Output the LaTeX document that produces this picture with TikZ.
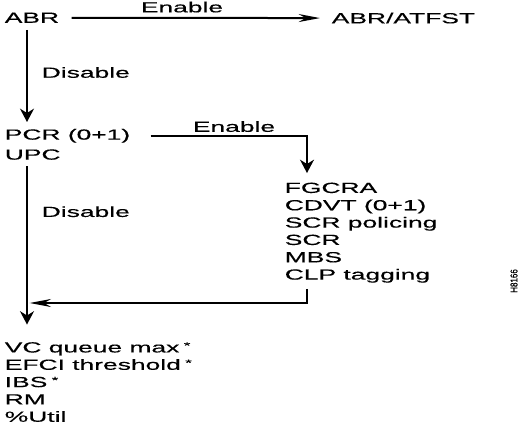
\documentclass[tikz,border=0pt]{standalone}
\usepackage{fontspec}
\setmainfont{Liberation Sans}[FakeBold=0.3]
\usetikzlibrary{arrows.meta}
\newcommand\smallstar{\raisebox{2.8pt}{\fontsize{7}{7}\selectfont *}}
\tikzset{
  txt/.style={inner sep=0pt, xscale=1.8, transform shape, align=left,
    font=\fontsize{11}{13}\selectfont},
}
\begin{document}
\begin{tikzpicture}[x=0.75pt, y=-0.75pt, line width=1.5pt,
  varr/.style={-{Stealth[length=10pt,width=10.5pt]}},
  harr/.style={-{Stealth[length=16pt,width=6pt]}}]
\useasboundingbox (0,0) rectangle (528,423);

\node[txt, anchor=north west] (abr) at (3,11.7) {ABR};
\node[txt, anchor=north west] (atfst) at (330,11.7) {ABR/ATFST};
\node[txt, anchor=south] (en1) at (182,13.5) {Enable};
\node[txt, anchor=west] (dis1) at (40,72.5) {Disable};
\node[txt, anchor=north west, font=\fontsize{11}{15}\selectfont] (pcr) at (3,128) {PCR (0+1)\\UPC};
\node[txt, anchor=south] (en2) at (234,133) {Enable};
\node[txt, anchor=west] (dis2) at (40,211.7) {Disable};
\node[txt, anchor=north west] (fg) at (283,181.7) {FGCRA\\CDVT (0+1)\\SCR policing\\SCR\\MBS\\CLP tagging};
\node[txt, anchor=north west] (vc) at (3,341.2) {VC queue max\,\smallstar\\EFCI threshold\,\smallstar\\IBS\,\smallstar\\RM\\\%Util};
\node[inner sep=0pt, xscale=1.25, rotate=90, transform shape, font=\fontsize{6}{7}\selectfont] (fig) at (514,281) {H8166};
\coordinate (join) at (27,303);

\draw[harr, shorten <=8pt, shorten >=7.5pt] (abr.east) -- (atfst.west);
\draw[varr, shorten <=4.5pt, shorten >=4.5pt] ([xshift=18pt]abr.south west) -- ([xshift=18pt]pcr.north west);
\draw[varr, shorten <=14pt] ([yshift=-6pt]pcr.north east) -| ([xshift=18pt,yshift=6.5pt]fg.north west);
\draw[varr, shorten <=4pt, shorten >=12.5pt] ([xshift=18pt]pcr.south west) -- ([xshift=18pt]vc.north west);
\draw[harr, shorten <=4pt, shorten >=2pt] ([xshift=18pt]fg.south west) |- (join);

\end{tikzpicture}
\end{document}
